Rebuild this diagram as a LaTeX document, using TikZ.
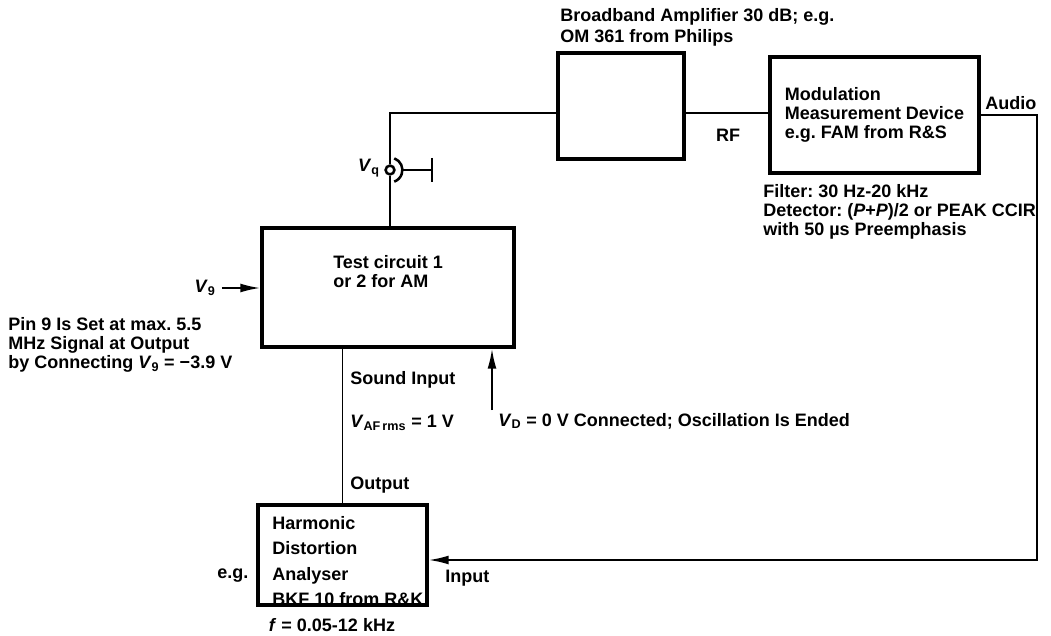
\documentclass[tikz,border=0pt]{standalone}
\usepackage{fontspec}
\setmainfont{Liberation Sans}
\usetikzlibrary{arrows.meta}
\frenchspacing
\begin{document}
\begin{tikzpicture}[x=0.025cm, y=-0.025cm, font=\fontsize{12.8}{13.6}\selectfont\bfseries,
  box/.style={draw, line width=2.2pt, inner sep=0pt},
  wire/.style={line width=1.4pt},
  feed/.style={wire, -{Latex[length=5mm,width=2.2mm]}},
  lbl/.style={inner sep=0pt, anchor=west, align=left}]
  \useasboundingbox (0,0) rectangle (1051,636);
  % blocks
  \node[box, minimum width=3.15cm, minimum height=2.65cm] (amp) at (621,106) {};
  \node[box, align=left, minimum width=5.225cm, minimum height=2.9cm] (mod) at (874.5,115) {Modulation\\Measurement Device\\e.g. FAM from R\&S};
  \node[box, minimum width=6.3cm, minimum height=2.975cm] (test) at (388,287.5) {};
  \node[box, minimum width=4.225cm, minimum height=2.5cm] (harm) at (342.5,555) {};
  % block texts
  \node[lbl, font=\fontsize{12.8}{15}\selectfont\bfseries] (amptxt) at (560,27.5) {Broadband Amplifier 30 dB; e.g.\\OM 361 from Philips};
  \node[lbl] (testtxt) at (333,272) {Test circuit 1\\or 2 for AM};
  \node[lbl, font=\fontsize{12.8}{18}\selectfont\bfseries] (harmtxt) at (272,561) {Harmonic\\Distortion\\Analyser\\BKF 10 from R\&K};
  \node[lbl] (filt) at (763,212) {Filter: 30 Hz-20 kHz\\Detector: (\textit{P}+\textit{P})/2 or PEAK CCIR\\with 50 µs Preemphasis};
  \node[lbl] (pin) at (8,345) {Pin 9 Is Set at max. 5.5\\MHz Signal at Output\\by Connecting \textit{V}\textsubscript{9} = −3.9 V};
  % signal labels
  \node[lbl] (audio) at (985,103) {Audio};
  \node[inner sep=0pt] (rf) at (728,135) {RF};
  \node[inner sep=0pt] (vqlbl) at (369,168) {\textit{V}\textsubscript{q}};
  \node[inner sep=0pt] (v9) at (205,288) {\textit{V}\textsubscript{9}};
  \node[lbl] (sound) at (350,380) {Sound Input};
  \node[lbl] (vaf) at (350,423) {\textit{V}\textsubscript{AF\,rms} = 1 V};
  \node[lbl] (outp) at (350,485) {Output};
  \node[lbl] (vd) at (498,421) {\textit{V}\textsubscript{D} = 0 V Connected; Oscillation Is Ended};
  \node[lbl] (eg) at (217,576) {e.g.};
  \node[lbl] (inp) at (445,578) {Input};
  \node[inner sep=0pt] (freq) at (332,625) {\textit{f} = 0.05-12 kHz};
  % V_q socket
  \node[circle, draw, line width=1.8pt, minimum size=0.22cm, inner sep=0pt] (vq) at (390,170) {};
  \begin{scope}[shift={(vq.center)}, x=1cm, y=1cm]
    \draw[line width=1.8pt] (70:0.31) arc[start angle=70, end angle=-70, radius=0.31];
  \end{scope}
  \coordinate (gnd) at (432,170);
  \draw[wire] ([xshift=0.31cm]vq.center) -- (gnd);
  \draw[wire] (gnd) ++(0,-12) -- ++(0,24);
  % connections
  \draw[wire] (vq.south) -- (vq.south |- test.north);
  \draw[wire] (vq.north) |- ([yshift=-0.175cm]amp.west);
  \draw[wire] ([yshift=-0.175cm]amp.east) -- ([yshift=-0.175cm]amp.east -| mod.west);
  \draw[feed] ([xshift=0.15cm]v9.east) -- (v9.east -| test.west);
  \coordinate (vdfoot) at (492,410);
  \draw[feed] (vdfoot) -- (vdfoot |- test.south);
  \draw[wire] (test.south -| harm.north) -- (harm.north);
  \coordinate (corner) at (1037,560);
  \draw[feed] (mod.east) -| (corner) -- (corner -| harm.east);
\end{tikzpicture}
\end{document}
